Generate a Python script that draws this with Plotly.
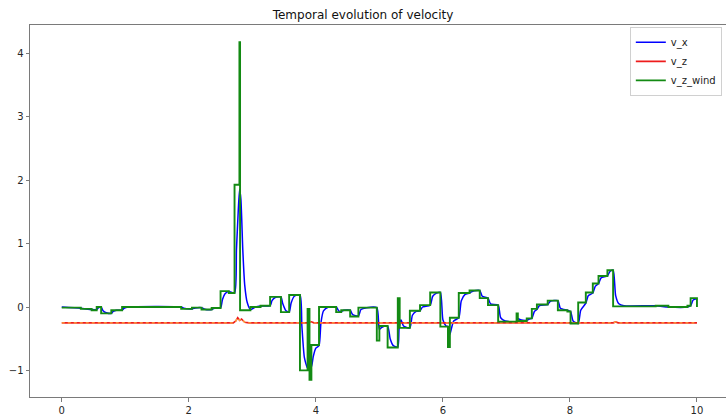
import plotly.graph_objects as go

# v_z_wind: step starts (time) and values
wind_t = [0.00, 0.30, 0.47, 0.55, 0.62, 0.78, 0.95, 1.88, 2.05, 2.20, 2.36, 2.50, 2.63, 2.72, 2.797, 2.807,
          2.97, 3.13, 3.28, 3.45, 3.58, 3.75, 3.87, 3.90, 3.93, 4.05, 4.32, 4.40, 4.54, 4.67, 4.96,
          5.00, 5.13, 5.29, 5.32, 5.48, 5.64, 5.80, 5.96, 6.08, 6.11, 6.25, 6.42, 6.58, 6.71, 6.87,
          7.16, 7.18, 7.32, 7.40, 7.48, 7.65, 7.81, 7.96, 8.01, 8.13, 8.25, 8.36, 8.45, 8.59, 8.68,
          9.35, 9.55, 9.85, 9.90, 10.00]
wind_v = [-0.01, -0.03, -0.05, 0.00, -0.10, -0.05, 0.00, -0.03, -0.01, -0.04, -0.015, 0.25, 0.22, 1.93, 4.18, -0.05,
          0.00, 0.02, 0.16, -0.08, 0.19, -1.00, -0.03, -1.15, -0.60, 0.00, -0.08, -0.05, -0.15, -0.01, -0.53,
          -0.30, -0.64, 0.14, -0.33, -0.06, 0.03, 0.23, -0.31, -0.63, -0.17, 0.22, 0.26, 0.14, 0.03, -0.23,
          -0.10, -0.22, -0.18, -0.03, 0.04, 0.10, -0.05, -0.07, -0.26, 0.07, 0.23, 0.37, 0.49, 0.58, 0.01,
          0.02, 0.00, 0.02, 0.14, 0.00]

# v_x
vx_t = [0.00, 0.30, 0.47, 0.55, 0.58, 0.62, 0.65, 0.70, 0.78, 0.81, 0.86, 0.95, 0.98, 1.05, 1.88, 1.92,
        2.05, 2.10, 2.20, 2.25, 2.36, 2.40, 2.50, 2.53, 2.57, 2.63, 2.72, 2.75, 2.78, 2.80, 2.82, 2.85,
        2.88, 2.92, 2.97, 3.05, 3.13, 3.28, 3.31, 3.36, 3.45, 3.48, 3.53, 3.58, 3.61, 3.66, 3.75, 3.78,
        3.82, 3.87, 3.89, 3.91, 3.93, 3.96, 4.00, 4.05, 4.08, 4.12, 4.20, 4.32, 4.36, 4.40, 4.44, 4.54,
        4.58, 4.67, 4.71, 4.80, 4.96, 5.00, 5.04, 5.13, 5.17, 5.22, 5.29, 5.31, 5.34, 5.38, 5.48, 5.52,
        5.58, 5.64, 5.68, 5.80, 5.84, 5.90, 5.96, 6.00, 6.05, 6.08, 6.10, 6.12, 6.17, 6.25, 6.29, 6.35,
        6.42, 6.47, 6.58, 6.62, 6.71, 6.75, 6.87, 6.91, 6.98, 7.16, 7.18, 7.22, 7.32, 7.36, 7.40, 7.44,
        7.48, 7.52, 7.65, 7.69, 7.81, 7.85, 7.96, 8.01, 8.05, 8.13, 8.17, 8.25, 8.29, 8.36, 8.40, 8.45,
        8.49, 8.59, 8.63, 8.68, 8.72, 8.77, 8.85, 9.35, 9.55, 9.85, 9.90, 9.94, 10.00]
vx_v = [0.00, -0.02, -0.04, -0.04, -0.01, 0.00, -0.06, -0.09, -0.10, -0.07, -0.05, -0.05, -0.02, 0.00, 0.00, -0.02,
        -0.03, -0.015, -0.01, -0.035, -0.04, -0.02, -0.015, 0.12, 0.21, 0.245, 0.22, 0.90, 1.55, 1.86, 1.70, 0.90,
        0.35, 0.07, -0.04, 0.00, 0.015, 0.02, 0.10, 0.15, 0.16, 0.05, -0.06, -0.08, 0.06, 0.17, 0.19, -0.30,
        -0.80, -0.97, -0.85, -0.90, -0.95, -0.78, -0.65, -0.61, -0.25, -0.06, 0.00, 0.00, -0.06, -0.07, -0.05, -0.05,
        -0.12, -0.14, -0.04, -0.01, -0.01, -0.35, -0.32, -0.30, -0.50, -0.61, -0.63, -0.35, -0.20, -0.30, -0.33, -0.13,
        -0.07, -0.06, 0.00, 0.03, 0.17, 0.22, 0.23, -0.20, -0.30, -0.31, -0.45, -0.40, -0.22, -0.17, 0.10, 0.20,
        0.22, 0.25, 0.26, 0.17, 0.14, 0.05, 0.03, -0.17, -0.22, -0.23, -0.18, -0.20, -0.21, -0.19, -0.18, -0.07,
        -0.04, 0.02, 0.04, 0.09, 0.10, -0.02, -0.05, -0.07, -0.22, -0.26, -0.05, 0.06, 0.18, 0.22, 0.33, 0.37,
        0.46, 0.49, 0.56, 0.58, 0.18, 0.05, 0.02, 0.02, 0.00, 0.00, 0.02, 0.11, 0.13]

# v_z
vz_t = [0.00, 2.70, 2.74, 2.77, 2.80, 2.83, 2.88, 2.95, 3.88, 3.92, 3.97, 8.68, 8.72, 8.76, 10.00]
vz_v = [-0.25, -0.25, -0.22, -0.17, -0.21, -0.19, -0.24, -0.25, -0.25, -0.23, -0.25, -0.25, -0.235, -0.25, -0.25]

x_ticks = [0, 2, 4, 6, 8, 10]
y_ticks = [-1, 0, 1, 2, 3, 4]

fig = go.Figure()
fig.add_trace(go.Scatter(x=vx_t, y=vx_v, mode="lines", name="v_x",
                         line=dict(color="#0000ff", width=1.5, shape="spline", smoothing=0.6)))
fig.add_trace(go.Scatter(x=vz_t, y=vz_v, mode="lines", name="v_z",
                         line=dict(color="#ee1c1c", width=1.6)))
fig.add_trace(go.Scatter(x=vz_t, y=vz_v, mode="lines", name="v_z", showlegend=False, hoverinfo="skip",
                         line=dict(color="#ffa640", width=1.4, dash="dot")))
fig.add_trace(go.Scatter(x=wind_t, y=wind_v, mode="lines", name="v_z_wind",
                         line=dict(color="#138a13", width=1.9, shape="hv")))

axis_common = dict(showgrid=False, zeroline=False, showline=True, linecolor="#7a7a7a", linewidth=1,
                   ticks="outside", ticklen=3.5, tickcolor="#7a7a7a", tickwidth=1,
                   tickfont=dict(family="DejaVu Sans", size=10, color="#262626"))

fig.update_layout(
    width=726, height=414,
    margin=dict(l=30, r=0, t=25, b=17, autoexpand=False),
    paper_bgcolor="white", plot_bgcolor="white",
    title=dict(text="Temporal evolution of velocity", x=0.5, xanchor="center", y=0.965, yanchor="middle",
               font=dict(family="DejaVu Sans", size=12, color="#111111")),
    xaxis=dict(range=[-0.5, 10.457], tickvals=x_ticks, mirror=True, **axis_common),
    yaxis=dict(range=[-1.42, 4.45], tickvals=y_ticks, **axis_common),
    legend=dict(x=0.994, y=0.995, xanchor="right", yanchor="top", bgcolor="rgba(255,255,255,0.85)",
                bordercolor="#d0d0d0", borderwidth=1, font=dict(family="DejaVu Sans", size=10, color="#222222"),
                itemwidth=30, tracegroupgap=0),
    showlegend=True,
)

fig.write_html("out.html")
